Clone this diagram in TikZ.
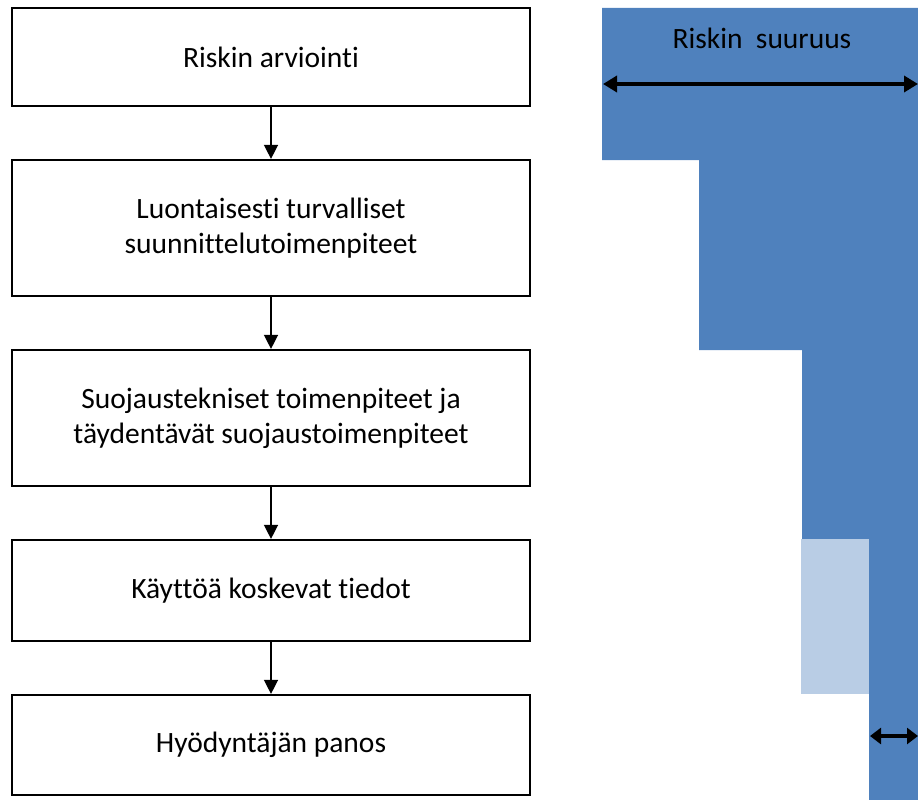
\documentclass[tikz,border=0pt]{standalone}
\usepackage{fontspec}
\setmainfont[Ligatures={NoCommon}]{Carlito}
\usetikzlibrary{arrows.meta}
\definecolor{riskblue}{HTML}{4F81BD}
\definecolor{risklight}{HTML}{B9CDE5}
\tikzset{
  labelfont/.style={font=\fontsize{29.5}{35}\selectfont},
  stepbox/.style={draw=black, line width=2.2pt, fill=white, minimum width=518pt,
    align=center, labelfont, inner sep=0pt},
  flow/.style={line width=1.4pt, -{Triangle[length=14pt,width=14pt]}},
  span/.style={line width=4pt, {Triangle[length=14pt,width=16pt]}-{Triangle[length=14pt,width=16pt]}},
}
\begin{document}
\begin{tikzpicture}[x=1pt,y=-1pt]
\useasboundingbox (0,0) rectangle (918,800);

% risk reduction profile
\fill[riskblue] (602,8) -- (918,8) -- (918,800) -- (869,800) -- (869,539)
  -- (802,539) -- (802,350) -- (699,350) -- (699,160) -- (602,160) -- cycle;
\fill[risklight] (801,539) rectangle (869,694);
\node[labelfont] (size) at (762,38) {Riskin\ \ suuruus};
\coordinate (sl) at (603,84);
\coordinate (sr) at (918,84);
\draw[span] (sl) -- (sr);
\coordinate (rl) at (870,736);
\coordinate (rr) at (918,736);
\draw[line width=4pt, {Triangle[length=11pt,width=16pt]}-{Triangle[length=11pt,width=16pt]}] (rl) -- (rr);

% process steps
\node[stepbox, minimum height=98pt] (b1) at (271,57) {Riskin arviointi};
\node[stepbox, minimum height=136pt] (b2) at (271,228) {Luontaisesti turvalliset\\suunnittelutoimenpiteet};
\node[stepbox, minimum height=136pt] (b3) at (271,418) {Suojaustekniset toimenpiteet ja\\täydentävät suojaustoimenpiteet};
\node[stepbox, minimum height=101pt] (b4) at (271,590.5) {Käyttöä koskevat tiedot};
\node[stepbox, minimum height=100pt] (b5) at (271,745) {Hyödyntäjän panos};

\draw[flow] (b1) -- (b2);
\draw[flow] (b2) -- (b3);
\draw[flow] (b3) -- (b4);
\draw[flow] (b4) -- (b5);
\end{tikzpicture}
\end{document}
